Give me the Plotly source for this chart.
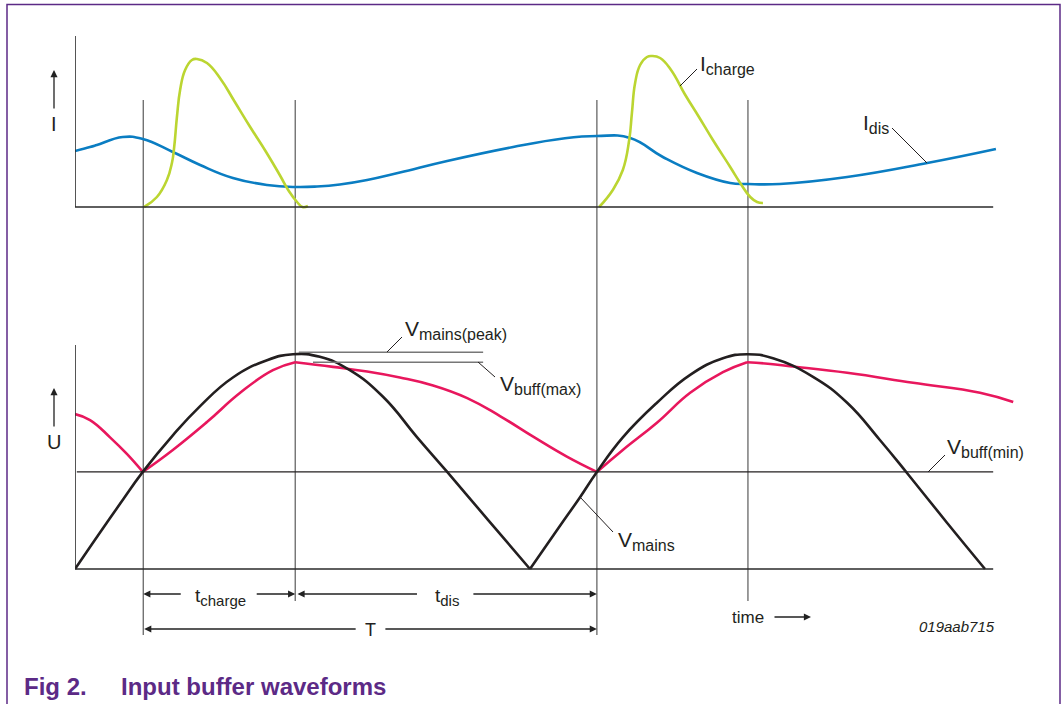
import plotly.graph_objects as go

W, H = 1063, 704

# ---------------- data ----------------
# time in ms, current in A (arbitrary), voltage in V
t_idis = [0, 0.33, 0.48, 1.05, 1.49, 2.15, 2.75, 3.47, 4.22, 4.84, 5.32, 5.82, 6.42, 7.14,
          8.18, 9.63, 10.73, 11.47, 12.20, 12.92, 13.67, 14.40, 14.79, 15.49, 16.97,
          18.73, 20.24]
i_idis = [0.56, 0.60, 0.62, 0.70, 0.68, 0.55, 0.42, 0.29, 0.22, 0.20, 0.205, 0.225, 0.27, 0.345,
          0.46, 0.60, 0.685, 0.71, 0.69, 0.50, 0.34, 0.24, 0.23, 0.23, 0.30,
          0.44, 0.58]

t_icharge_1 = [1.52, 1.80, 2.02, 2.13, 2.18, 2.24, 2.31, 2.42, 2.57, 2.68, 2.90, 3.20, 3.50,
               3.85, 4.20, 4.50, 4.70, 4.88, 5.00, 5.12]
i_icharge_1 = [0.0, 0.10, 0.27, 0.44, 0.60, 0.90, 1.17, 1.37, 1.47, 1.48, 1.44, 1.28, 1.06,
               0.80, 0.55, 0.32, 0.16, 0.05, 0.0, 0.01]
t_icharge_2 = [11.52, 11.82, 12.04, 12.18, 12.24, 12.31, 12.42, 12.57, 12.68, 12.86,
               13.10, 13.40, 13.70, 14.02, 14.40, 14.62, 14.84, 14.99, 15.12]
i_icharge_2 = [0.0, 0.17, 0.37, 0.67, 0.94, 1.24, 1.42, 1.50, 1.51, 1.49,
               1.37, 1.13, 0.91, 0.67, 0.40, 0.24, 0.10, 0.05, 0.04]

t_mains_1 = [0, 0.55, 0.99, 1.49, 2.15, 2.75, 3.47, 4.22, 4.79, 5.38, 6.04, 6.77,
             7.52, 8.18, 9.10, 10.0]
u_mains_1 = [0, 55, 98, 146, 201, 245, 288, 314, 323, 319, 299, 259,
             198, 146, 72, 0]
t_mains_2 = [10.0, 10.66, 11.10, 11.47, 12.04, 12.79, 13.52, 14.24, 14.77, 15.34,
             16.22, 16.97, 17.69, 18.29, 19.16, 20.0]
u_mains_2 = [0, 65, 108, 146, 198, 250, 292, 317, 323, 317,
             289, 250, 194, 144, 70, 0]

t_buff_dis0 = [0, 0.33, 0.77, 1.14, 1.49]
u_buff_dis0 = [233, 224, 198, 173, 146]
t_buff_chg1 = [1.49, 2.15, 2.90, 3.63, 4.35, 4.84]
u_buff_chg1 = [146, 179, 221, 265, 299, 311]
t_buff_dis1 = [4.84, 5.67, 6.42, 7.14, 7.87, 8.62, 9.34, 10.07, 10.81, 11.47]
u_buff_dis1 = [311, 304, 297, 288, 276, 257, 230, 199, 169, 146]
t_buff_chg2 = [11.47, 12.04, 12.79, 13.52, 14.24, 14.77]
u_buff_chg2 = [146, 179, 220, 265, 296, 311]
t_buff_dis2 = [14.77, 15.34, 15.71, 16.97, 18.42, 19.89, 20.62]
u_buff_dis2 = [311, 308, 305, 295, 280, 265, 251]

marker_times = [1.5, 4.84, 11.47, 14.79]     # t_charge start/end, period
v_mains_peak = 326
v_buff_max = 311
v_buff_min = 146
t_end = 20.18

# ---------------- helpers ----------------
def join(*segs):
    out = []
    for k, s in enumerate(segs):
        if k:
            out.append(None)
        out.extend(s)
    return out

def P(x):
    return x / W

def Q(y):
    return (H - y) / H

BLUE = "#0a7dc2"
GREEN = "#bbd531"
RED = "#e8175d"
BLACK = "#231f20"
GREY = "#5a5a5a"
PURPLE = "#5c2a86"
FONT = "Liberation Sans, Arial, sans-serif"

def curve(color):
    return dict(color=color, width=2.6, shape="spline", smoothing=1.3)

fig = go.Figure()

fig.add_trace(go.Scatter(x=t_idis, y=i_idis, mode="lines", line=curve(BLUE),
                         xaxis="x", yaxis="y", hoverinfo="skip"))
fig.add_trace(go.Scatter(x=join(t_icharge_1, t_icharge_2), y=join(i_icharge_1, i_icharge_2), mode="lines",
                         line=curve(GREEN), xaxis="x", yaxis="y", hoverinfo="skip"))
fig.add_trace(go.Scatter(x=join(t_buff_dis0, t_buff_chg1, t_buff_dis1, t_buff_chg2, t_buff_dis2),
                         y=join(u_buff_dis0, u_buff_chg1, u_buff_dis1, u_buff_chg2, u_buff_dis2), mode="lines",
                         line=curve(RED), xaxis="x2", yaxis="y2", hoverinfo="skip"))
fig.add_trace(go.Scatter(x=join(t_mains_1, t_mains_2), y=join(u_mains_1, u_mains_2), mode="lines",
                         line=curve(BLACK), xaxis="x2", yaxis="y2", hoverinfo="skip"))

xdom = [75 / W, (75 + 45.5 * 20.7) / W]
fig.update_layout(
    width=W, height=H, margin=dict(l=0, r=0, t=0, b=0),
    paper_bgcolor="white", plot_bgcolor="rgba(0,0,0,0)", showlegend=False,
    xaxis=dict(domain=xdom, range=[0, 20.7], visible=False, fixedrange=True),
    yaxis=dict(domain=[Q(212), Q(32)], range=[-0.05, 1.75], visible=False, fixedrange=True),
    xaxis2=dict(domain=xdom, range=[0, 20.7], visible=False, anchor="y2", fixedrange=True),
    yaxis2=dict(domain=[Q(574.32), Q(339.575)], range=[-8, 345], visible=False, anchor="x2", fixedrange=True),
    font=dict(family=FONT, color=BLACK),
)

shapes = []
# frame
shapes.append(dict(type="rect", xref="paper", yref="paper", x0=P(7), x1=P(1060), y0=-0.02, y1=Q(4.5),
                   line=dict(color=PURPLE, width=1.5)))
# axes
ax_line = dict(color="#2a2a2a", width=1.6)
shapes.append(dict(type="line", xref="x", yref="y", x0=0, x1=0, y0=0, y1=1.71, line=ax_line))
shapes.append(dict(type="line", xref="x", yref="y", x0=0, x1=t_end, y0=0, y1=0, line=ax_line))
shapes.append(dict(type="line", xref="x2", yref="y2", x0=0, x1=0, y0=0, y1=337, line=ax_line))
shapes.append(dict(type="line", xref="x2", yref="y2", x0=0, x1=t_end, y0=0, y1=0, line=ax_line))
# Vbuff(min) level
shapes.append(dict(type="line", xref="x2", yref="y2", x0=0.04, x1=t_end, y0=v_buff_min, y1=v_buff_min,
                   line=dict(color=BLACK, width=1.3)))
# peak reference lines
shapes.append(dict(type="line", xref="x2", yref="y2", x0=4.92, x1=8.97, y0=v_mains_peak, y1=v_mains_peak,
                   line=dict(color="#777777", width=1.6)))
shapes.append(dict(type="line", xref="x2", yref="y2", x0=5.23, x1=8.97, y0=v_buff_max, y1=v_buff_max,
                   line=dict(color="#777777", width=1.6)))
# vertical time markers
ends = [635, 601, 635, 601]
for tm, e in zip(marker_times, ends):
    shapes.append(dict(type="line", xref="x", yref="paper", x0=tm, x1=tm, y0=Q(100), y1=Q(e),
                       line=dict(color=GREY, width=1.2), layer="below"))
# leader lines
leaders = [((697, 69), (680, 86)), ((892, 128), (927, 163)), ((402, 337), (387, 352)),
           ((478, 362), (495, 377)), ((928, 472), (945, 455)), ((580, 497), (613, 532))]
for (x0, y0), (x1, y1) in leaders:
    shapes.append(dict(type="line", xref="paper", yref="paper", x0=P(x0), y0=Q(y0), x1=P(x1), y1=Q(y1),
                       line=dict(color=BLACK, width=1)))
fig.update_layout(shapes=shapes)

ann = []
def label(x, y, text, size=21, xanchor="left", color=BLACK, **kw):
    ann.append(dict(xref="paper", yref="paper", x=P(x), y=Q(y), text=text, showarrow=False,
                    xanchor=xanchor, yanchor="middle", font=dict(size=size, color=color, family=FONT), **kw))

def sub(main, s, size=16):
    return f'{main}<sub><span style="font-size:{size}px">{s}</span></sub>'

def arrow(x, y, ax, ay=0, xref="paper"):
    ann.append(dict(xref=xref, yref="paper", x=x, y=Q(y), ax=ax, ay=ay, text="", showarrow=True,
                    arrowhead=2, arrowsize=1.1, arrowwidth=1.3, arrowcolor="#222", standoff=0))

label(54, 124, "I", xanchor="center", size=20)
arrow(P(54), 70, 0, 40)
label(54, 442, "U", xanchor="center", size=20)
arrow(P(54), 388, 0, 40)

label(698, 65, sub("I", "charge"))
label(861, 124, sub("I", "dis"))
label(403, 330, sub("V", "mains(peak)"))
label(498, 385, sub("V", "buff(max)"))
label(945, 448, sub("V", "buff(min)"))
label(616, 541, sub("V", "mains"))

# dimension arrows
arrow(marker_times[0], 594, 39, xref="x")
arrow(marker_times[1], 594, -40, xref="x")
arrow(marker_times[1] + 0.05, 594, 121, xref="x")
arrow(marker_times[2], 594, -125, xref="x")
arrow(marker_times[0] + 0.02, 629, 213, xref="x")
arrow(marker_times[2], 629, -213, xref="x")
label(220, 597, sub("t", "charge", 15), xanchor="center", size=19)
label(447, 597, sub("t", "dis", 15), xanchor="center", size=19)
label(370, 630, "T", xanchor="center", size=18)
label(748, 617, "time", xanchor="center", size=17)
arrow(P(811), 617, -38)
label(997, 626, "<i>019aab715</i>", xanchor="right", size=15)

label(22, 686, "<b>Fig 2.</b>", size=24, color=PURPLE)
label(119, 686, "<b>Input buffer waveforms</b>", size=24, color=PURPLE)

fig.update_layout(annotations=ann)
fig.write_html("out.html", config={"displayModeBar": False},
               post_script="document.body.style.margin='0';document.body.style.overflow='hidden';")
